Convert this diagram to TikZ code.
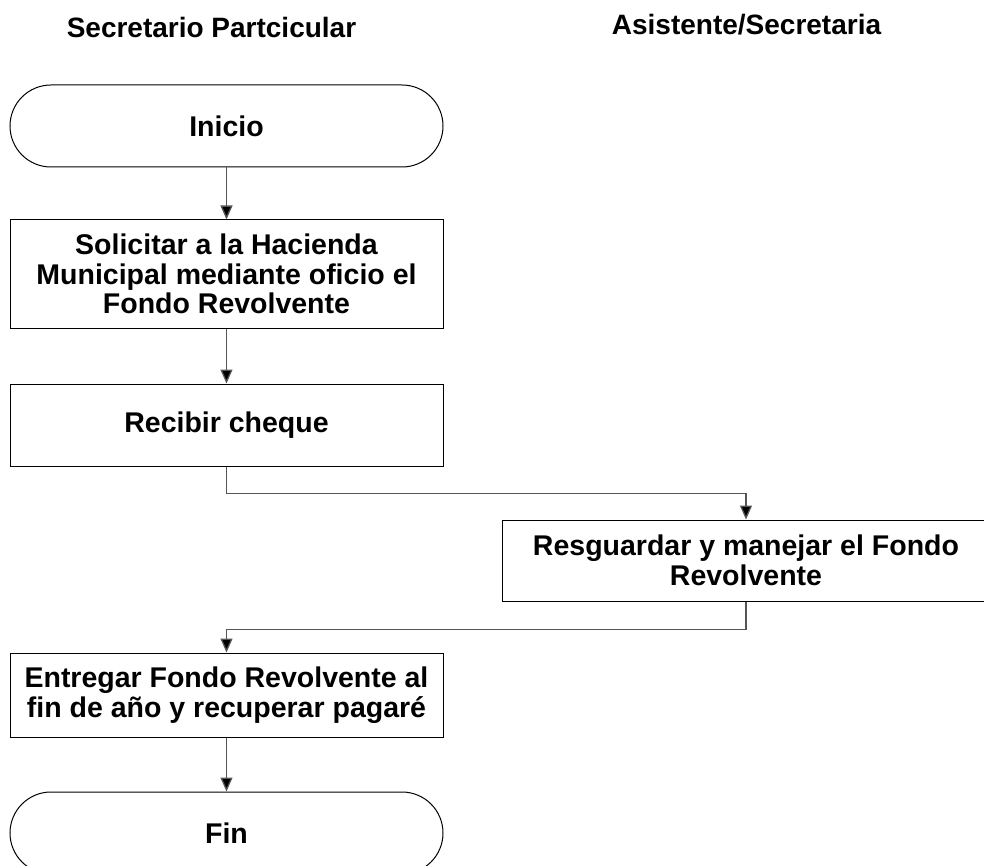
\documentclass[tikz,border=0pt]{standalone}
\usepackage{fontspec}
\setmainfont{Liberation Sans}
\usetikzlibrary{arrows.meta}
\definecolor{conncol}{HTML}{555555}
\tikzset{
  txt/.style={font=\fontsize{28.5}{29.5}\selectfont\bfseries, align=center, inner sep=1pt},
  stepbox/.style={txt, draw=black, line width=1pt, rectangle, minimum width=433pt},
  term/.style={stepbox, rounded corners=41pt, minimum height=82pt},
  conn/.style={draw=conncol, line width=1.3pt, -{Triangle[length=14pt,width=12pt,fill=black]}},
  head/.style={font=\fontsize{28}{30}\selectfont\bfseries, anchor=base, inner sep=0pt}
}
\begin{document}
\begin{tikzpicture}[x=1pt,y=-1pt]
\path[use as bounding box] (0,0) rectangle (984,866);
\clip (0,0) rectangle (984,866);
\node[head] (h1) at (211.5,38) {Secretario Partcicular};
\node[head] (h2) at (746.5,35) {Asistente/Secretaria};
\node[term] (inicio) at (226.5,126) {Inicio};
\node[stepbox, minimum height=108pt] (sol) at (226.5,274) {Solicitar a la Hacienda\\Municipal mediante oficio el\\Fondo Revolvente};
\node[stepbox, minimum height=82pt] (rec) at (226.5,425) {Recibir cheque};
\node[stepbox, minimum width=488pt, minimum height=81pt] (res) at (746,560.5) {Resguardar y manejar el Fondo\\Revolvente};
\node[stepbox, minimum height=84pt] (ent) at (226.5,695) {Entregar Fondo Revolvente al\\fin de año y recuperar pagaré};
\node[term] (fin) at (226.5,833) {Fin};
\draw[conn] (inicio.south) -- (sol.north);
\draw[conn] (sol.south) -- (rec.north);
\draw[conn] (rec.south) -- ++(0,27) -| (res.north);
\draw[conn] (res.south) -- ++(0,28) -| (ent.north);
\draw[conn] (ent.south) -- (fin.north);
\end{tikzpicture}
\end{document}
